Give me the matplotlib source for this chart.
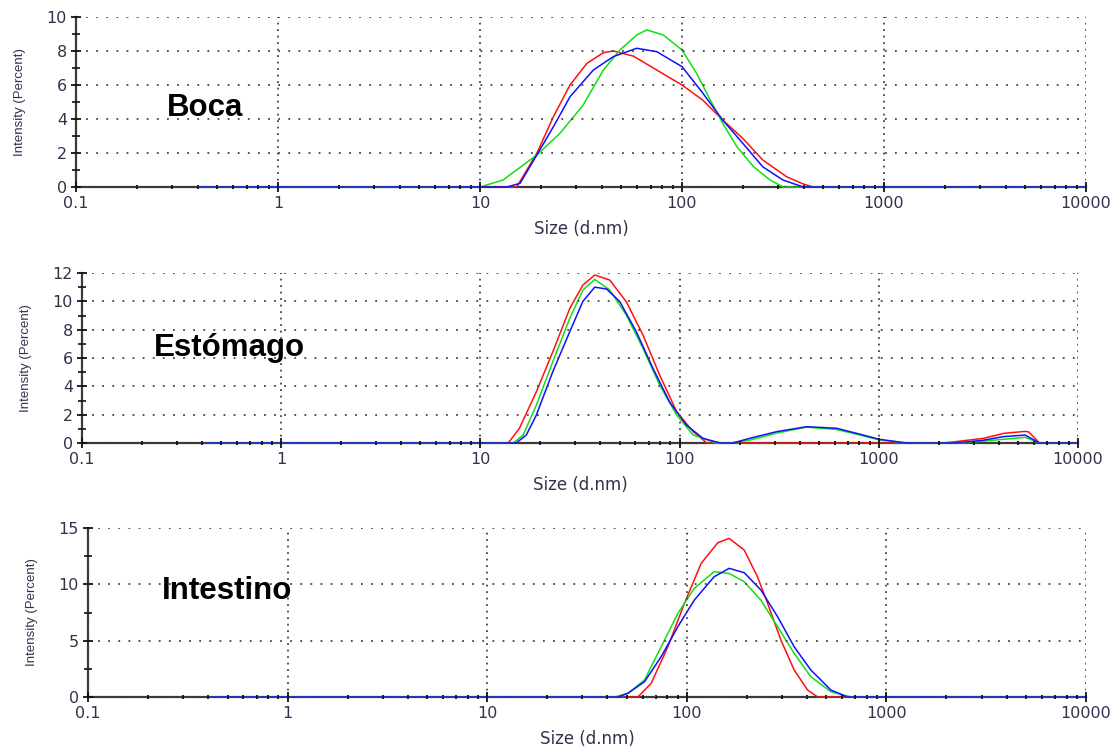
"""
Recreate the DLS intensity-size distributions (Boca / Estomago / Intestino).
Three stacked log-x panels, three replicate runs each (red, green, blue).
"""

import matplotlib
matplotlib.use("Agg")
import matplotlib.pyplot as plt
from matplotlib.ticker import FixedLocator, LogLocator, NullFormatter, FuncFormatter

W, H = 1117, 748

# ---------------- data (size in d.nm, intensity in %) ----------------
boca_red_x = [0.4, 15.2, 19.1, 23.1, 27.9, 33.8, 40.8, 45.7, 57.4, 75, 100, 127, 159, 200, 251, 330, 398, 446, 10000]
boca_red_y = [0, 0, 1.98, 4.14, 6.0, 7.27, 7.9, 8.0, 7.7, 6.88, 6.0, 5.1, 3.94, 2.86, 1.59, 0.6, 0.18, 0, 0]
boca_green_x = [0.4, 10, 13.0, 19.1, 24.9, 32.4, 40.8, 49.3, 59.7, 66.9, 80.8, 100, 118, 138, 159, 187, 226, 273, 316, 10000]
boca_green_y = [0, 0, 0.41, 1.88, 3.16, 4.82, 6.88, 8.06, 8.94, 9.24, 8.94, 8.06, 6.69, 5.12, 3.75, 2.37, 1.19, 0.41, 0, 0]
boca_blue_x = [0.4, 13.6, 15.8, 19.1, 23.1, 27.9, 36.4, 45.7, 59.7, 75, 100, 127, 159, 200, 251, 316, 398, 10000]
boca_blue_y = [0, 0, 0.22, 1.88, 3.55, 5.31, 6.88, 7.67, 8.16, 7.96, 7.08, 5.51, 3.94, 2.57, 1.19, 0.41, 0, 0]

est_red_x = [0.4, 13.8, 15.7, 19.1, 23.1, 28.1, 32.7, 37.5, 44.6, 54, 65.5, 79.4, 96.6, 117, 137,
             2130, 3360, 4230, 5430, 5660, 6400, 10000]
est_red_y = [0, 0, 1.04, 3.62, 6.44, 9.5, 11.15, 11.86, 11.5, 9.97, 7.62, 4.8, 2.21, 0.8, 0,
             0, 0.33, 0.68, 0.82, 0.78, 0, 0]
est_green_x = [0.4, 14.6, 16.4, 19.1, 23.1, 28.1, 32.7, 37.5, 44.6, 54, 65.5, 79.4, 96.6, 117, 153,
               179, 225, 307, 434, 614, 774, 1006, 1380, 2600, 4230, 5430, 6400, 10000]
est_green_y = [0, 0, 0.56, 2.68, 5.74, 8.8, 10.8, 11.55, 10.8, 9.03, 6.68, 4.09, 1.98, 0.56, 0,
               0, 0.2, 0.7, 1.12, 0.95, 0.62, 0.22, 0, 0, 0.26, 0.4, 0, 0]
est_blue_x = [0.4, 15.1, 17.0, 19.1, 23.1, 28.1, 32.7, 37.5, 43.0, 50, 60.6, 73.5, 88.9, 108, 131, 160,
              185, 225, 307, 434, 614, 774, 1006, 1380, 2450, 3360, 4230, 5430, 6400, 10000]
est_blue_y = [0, 0, 0.56, 1.98, 5.04, 7.86, 10.0, 11.0, 10.87, 10.0, 7.86, 5.27, 2.92, 1.27, 0.33, 0,
              0, 0.33, 0.8, 1.15, 1.04, 0.68, 0.26, 0, 0, 0.2, 0.45, 0.56, 0, 0]

int_red_x = [0.4, 56.9, 66.3, 80.4, 97.3, 118, 143, 163, 194, 226, 254, 296, 345, 403, 452, 10000]
int_red_y = [0, 0, 1.21, 4.46, 8.31, 11.86, 13.69, 14.08, 13.04, 10.67, 8.31, 5.06, 2.4, 0.62, 0, 0]
int_green_x = [0.4, 43.5, 50.7, 61.4, 74.4, 90.2, 109, 137, 163, 194, 235, 285, 345, 418, 527, 663, 10000]
int_green_y = [0, 0, 0.33, 1.51, 4.46, 7.42, 9.64, 11.12, 10.97, 10.23, 8.6, 6.24, 3.88, 1.8, 0.47, 0, 0]
int_blue_x = [0.4, 45.2, 50.7, 61.4, 74.4, 90.2, 109, 137, 163, 194, 235, 285, 345, 418, 527, 638, 10000]
int_blue_y = [0, 0, 0.33, 1.36, 3.58, 6.24, 8.6, 10.67, 11.42, 11.03, 9.5, 7.13, 4.46, 2.4, 0.62, 0, 0]

x_ticks = [0.1, 1, 10, 100, 1000, 10000]

PANELS = [
    # name, (red, green, blue), ymax, ymajor, yminor, box px (left, top, right, bottom), title px
    ("Boca", ((boca_red_x, boca_red_y), (boca_green_x, boca_green_y), (boca_blue_x, boca_blue_y)),
     10, 2, 1, (76, 17, 1086, 187), (205, 108)),
    ("Estómago", ((est_red_x, est_red_y), (est_green_x, est_green_y), (est_blue_x, est_blue_y)),
     12, 2, 1, (82, 273, 1078, 443), (229, 348)),
    ("Intestino", ((int_red_x, int_red_y), (int_green_x, int_green_y), (int_blue_x, int_blue_y)),
     15, 5, 2.5, (88, 528, 1086, 697), (227, 591)),
]

COLORS = ["#ff1010", "#10e010", "#1010ff"]
AXIS_COLOR = "#3a3a3a"
TEXT_COLOR = "#35304a"


def main():
    fig = plt.figure(figsize=(W / 100, H / 100), dpi=100)

    for name, series, ymax, ymaj, ymin, box, tpos in PANELS:
        l, t, r, b = box
        ax = fig.add_axes([l / W, 1 - b / H, (r - l) / W, (b - t) / H])
        ax.set_xscale("log")
        ax.set_xlim(0.1, 10000)
        ax.set_ylim(0, ymax)

        for (xs, ys), c in zip(series, COLORS):
            ax.plot(xs, ys, color=c, lw=1.1, clip_on=False, zorder=2)

        ax.xaxis.set_major_locator(FixedLocator(x_ticks))
        ax.xaxis.set_minor_locator(LogLocator(base=10, subs=range(2, 10)))
        ax.xaxis.set_minor_formatter(NullFormatter())
        ax.xaxis.set_major_formatter(FuncFormatter(lambda v, p: f"{v:g}"))
        ax.yaxis.set_major_locator(FixedLocator([i * ymaj for i in range(int(ymax / ymaj) + 1)]))
        ax.yaxis.set_minor_locator(FixedLocator([ymin + i * 2 * ymin for i in range(int(ymax / (2 * ymin)))]))

        ax.set_axisbelow(False)
        ax.xaxis.grid(True, which="major", color="#444444", lw=1.3, ls=(0, (1, 2.6)))
        ax.yaxis.grid(True, which="major", color="#444444", lw=1.3, ls=(0, (1, 4.6)))

        for side in ("top", "right"):
            ax.spines[side].set_visible(False)
        for side in ("left", "bottom"):
            ax.spines[side].set_color(AXIS_COLOR)
            ax.spines[side].set_linewidth(1.6)
            ax.spines[side].set_zorder(1.8)

        ax.tick_params(axis="both", which="major", direction="inout", length=7, width=1.3,
                       color="#111111", labelsize=11.5, labelcolor=TEXT_COLOR, pad=3)
        ax.tick_params(axis="x", which="minor", direction="inout", length=3.5, width=1.3, color="#111111")
        ax.tick_params(axis="y", which="minor", direction="inout", length=6, width=1.2, color="#111111")
        for lab in ax.get_xticklabels() + ax.get_yticklabels():
            lab.set_family("DejaVu Sans")

        cx = (l + r) / 2
        fig.text(cx / W, 1 - (b + 42) / H, "Size (d.nm)", ha="center", va="center",
                 fontsize=12, color=TEXT_COLOR, family="DejaVu Sans")
        fig.text((l - 56) / W, 1 - ((t + b) / 2) / H, "Intensity (Percent)", rotation=90,
                 ha="center", va="center", fontsize=9.5, color=TEXT_COLOR, family="Liberation Sans")
        fig.text(tpos[0] / W, 1 - tpos[1] / H, name, ha="center", va="center",
                 fontsize=22.5, fontweight="bold", color="black", family="Liberation Sans")

    fig.savefig("out.png", dpi=100)


if __name__ == "__main__":
    main()
